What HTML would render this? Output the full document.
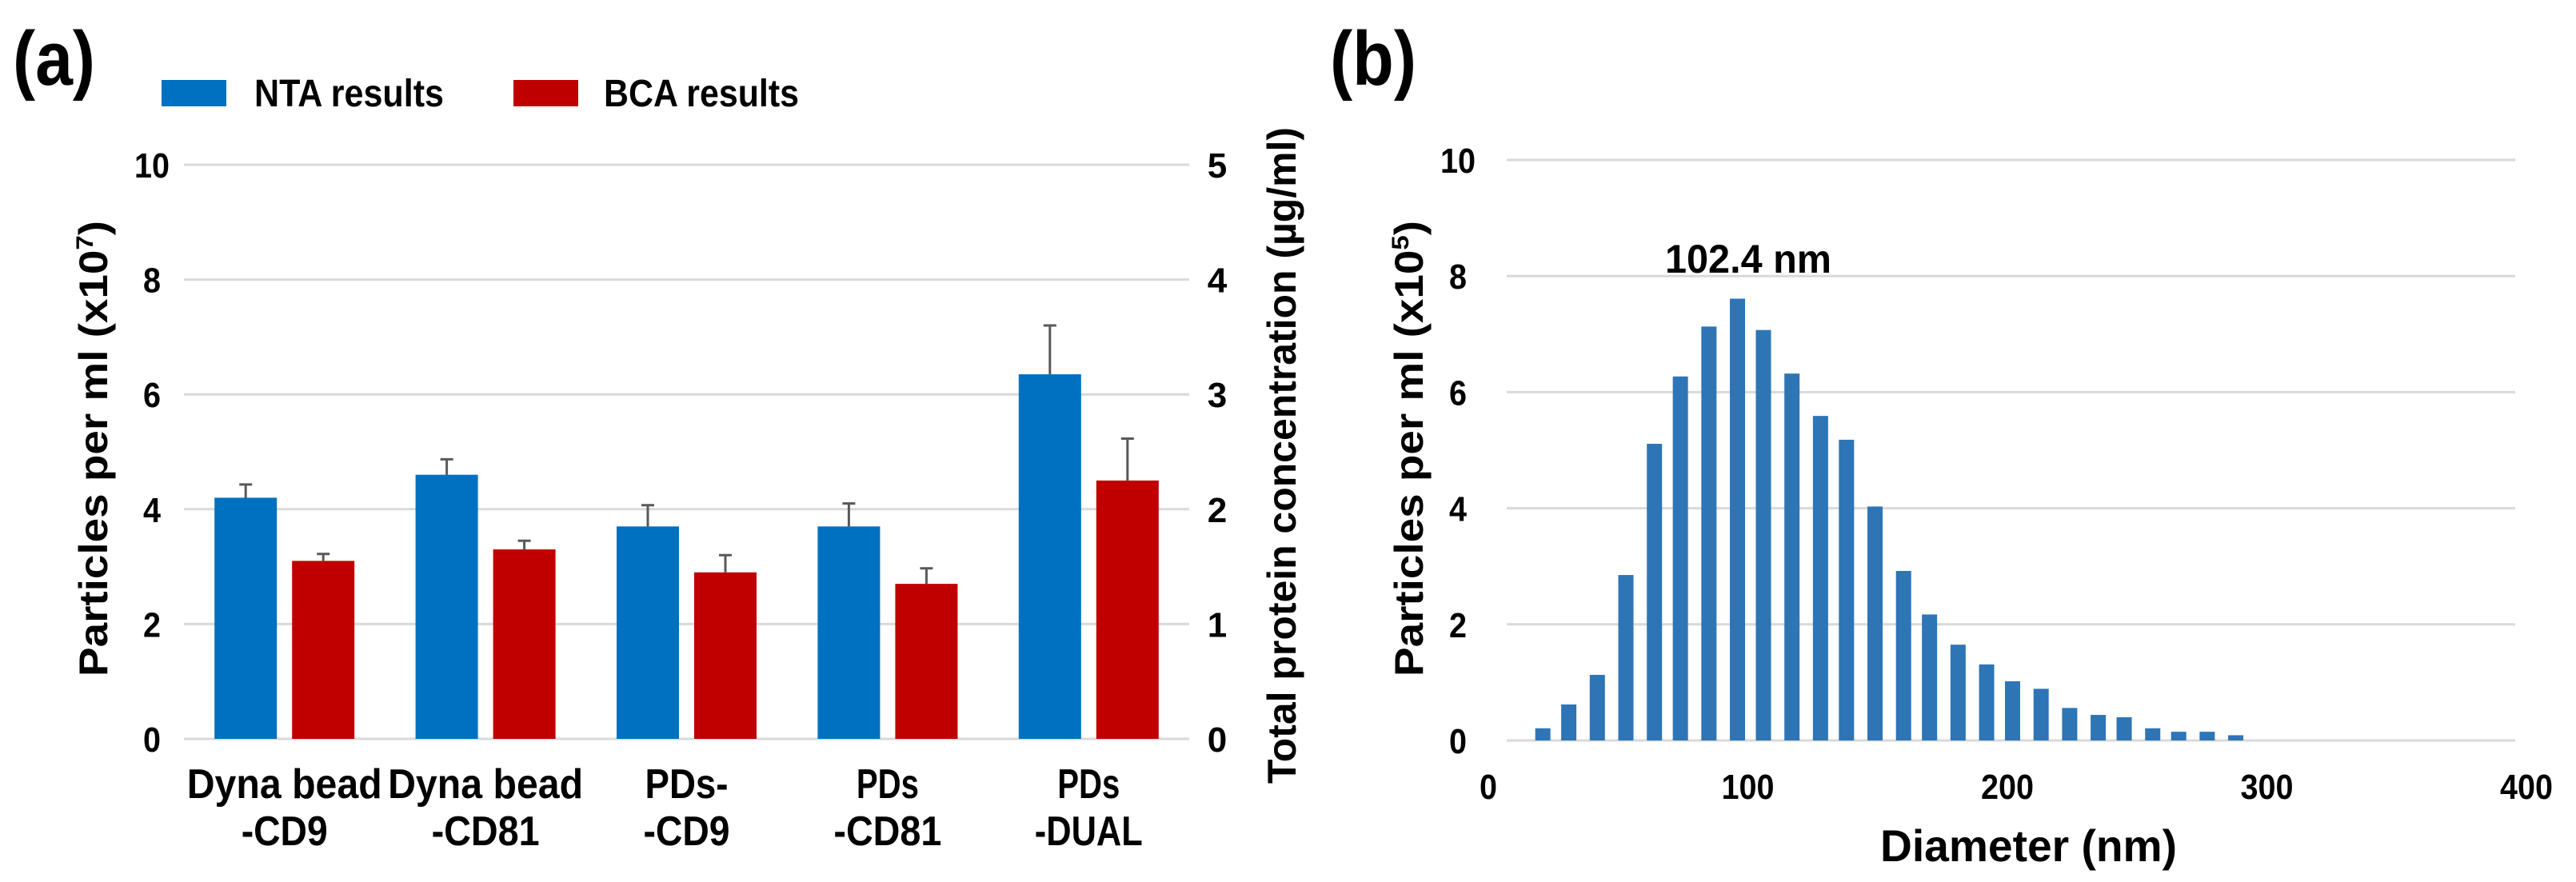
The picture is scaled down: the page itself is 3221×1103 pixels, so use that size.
<!DOCTYPE html>
<html><head><meta charset="utf-8"><style>
html,body{margin:0;padding:0;background:#fff;}
svg{display:block;font-family:"Liberation Sans",Arial,sans-serif;font-weight:bold;}
</style></head><body>
<svg id="fig" width="3221" height="1103" viewBox="0 0 3221 1103">
<text x="16" y="106" font-size="96" textLength="103" lengthAdjust="spacingAndGlyphs">(a)</text>
<text x="1663" y="106" font-size="96" textLength="108" lengthAdjust="spacingAndGlyphs">(b)</text>
<rect x="202" y="100" width="81" height="33" fill="#0070C0"/>
<text x="318" y="133" font-size="48" textLength="237" lengthAdjust="spacingAndGlyphs">NTA results</text>
<rect x="642" y="100" width="81" height="33" fill="#C00000"/>
<text x="755" y="133" font-size="48" textLength="244" lengthAdjust="spacingAndGlyphs">BCA results</text>
<g id="ga"></g>
<g id="gb"></g>
<text transform="translate(1620,980) rotate(-90)" font-size="50" textLength="821" lengthAdjust="spacingAndGlyphs">Total protein concentration (µg/ml)</text>
<text transform="translate(134,846) rotate(-90)" font-size="50" textLength="570" lengthAdjust="spacingAndGlyphs">Particles per ml (x10<tspan font-size="30" dy="-18">7</tspan><tspan dy="18">)</tspan></text>
<text transform="translate(1779,846) rotate(-90)" font-size="50" textLength="570" lengthAdjust="spacingAndGlyphs">Particles per ml (x10<tspan font-size="30" dy="-18">5</tspan><tspan dy="18">)</tspan></text>
<text x="2351" y="1077" font-size="56" textLength="371" lengthAdjust="spacingAndGlyphs">Diameter (nm)</text>
<text x="2082" y="341" font-size="50" textLength="208" lengthAdjust="spacingAndGlyphs">102.4 nm</text>
</svg>
<script>
const NS="http://www.w3.org/2000/svg";
// Chart A data
const catLine1=["Dyna bead","Dyna bead","PDs-","PDs","PDs"];
const catLine2=["-CD9","-CD81","-CD9","-CD81","-DUAL"];
const ntaVals=[4.2,4.6,3.7,3.7,6.35];
const ntaErr=[0.23,0.27,0.37,0.4,0.85];
const bcaVals=[1.55,1.65,1.45,1.35,2.25];
const bcaErr=[0.06,0.075,0.15,0.135,0.365];
const leftTicks=[0,2,4,6,8,10];
const rightTicks=[0,1,2,3,4,5];
// Chart B data
const diam=[21,31,42,53,64,74,85,96,106,117,128,138,149,160,170,181,192,202,213,224,235,245,256,266,277,288];
const counts=[0.21,0.62,1.13,2.85,5.11,6.27,7.13,7.61,7.07,6.32,5.59,5.18,4.03,2.92,2.17,1.65,1.31,1.02,0.89,0.56,0.44,0.40,0.21,0.15,0.15,0.09];
const bYTicks=[0,2,4,6,8,10];
const bXTicks=[0,100,200,300,400];

function mk(tag,attrs,parent,txt){const e=document.createElementNS(NS,tag);for(const k in attrs)e.setAttribute(k,attrs[k]);if(txt!==undefined)e.textContent=txt;parent.appendChild(e);return e;}
function narrow(e,s){e.setAttribute('textLength',String(s).length*22);e.setAttribute('lengthAdjust','spacingAndGlyphs');}

// Chart A
const ga=document.getElementById('ga');
const aX0=230,aX1=1487,aY0=924,aY1=206;
const yA=v=>aY0-(v/10)*(aY0-aY1);
const yR=v=>aY0-(v/5)*(aY0-aY1);
const catW=(aX1-aX0)/catLine1.length;
leftTicks.forEach(t=>{
  const l=mk('line',{x1:aX0,x2:aX1,y1:yA(t),y2:yA(t),stroke:'#d9d9d9','stroke-width':3},ga);
  
  
  const tx=mk('text',{x:190,y:yA(t)+16,'font-size':44,'text-anchor':'middle'},ga,String(t));
  narrow(tx,t);
  
  
});
rightTicks.forEach(t=>{
  const tx=mk('text',{x:1522,y:yR(t)+16,'font-size':44,'text-anchor':'middle'},ga,String(t));
  
  
});
const bw=78,gap=19;
catLine1.forEach((c,i)=>{
  const cx=aX0+catW*(i+0.5);
  const nx=cx-gap/2-bw, rx=cx+gap/2;
  const nb=mk('rect',{x:nx,y:yA(ntaVals[i]),width:bw,height:aY0-yA(ntaVals[i]),fill:'#0070C0'},ga);
  
  
  const rb=mk('rect',{x:rx,y:yR(bcaVals[i]),width:bw,height:aY0-yR(bcaVals[i]),fill:'#C00000'},ga);
  
  
  [[nx+bw/2,yA(ntaVals[i]),yA(ntaVals[i]+ntaErr[i])],[rx+bw/2,yR(bcaVals[i]),yR(bcaVals[i]+bcaErr[i])]].forEach(e=>{
    const g=mk('path',{d:`M${e[0]},${e[1]}V${e[2]}M${e[0]-8},${e[2]}H${e[0]+8}`,stroke:'#595959','stroke-width':3,fill:'none'},ga);
    
    
  });
  const t1=mk('text',{x:cx,y:998,'font-size':52,'text-anchor':'middle'},ga,c);
  t1.setAttribute('textLength',c.length>5?244:c.length*26);t1.setAttribute('lengthAdjust','spacingAndGlyphs');
  
  
  const t2=mk('text',{x:cx,y:1057,'font-size':52,'text-anchor':'middle'},ga,catLine2[i]);
  t2.setAttribute('textLength',catLine2[i].length*27);t2.setAttribute('lengthAdjust','spacingAndGlyphs');
  
  
});

// Chart B
const gb=document.getElementById('gb');
const bY0=926,bY1=200;
const xB=v=>1861+v*3.245;
const yB=v=>bY0-(v/10)*(bY0-bY1);
bYTicks.forEach(t=>{
  const l=mk('line',{x1:1884,x2:3145,y1:yB(t),y2:yB(t),stroke:'#d9d9d9','stroke-width':3},gb);
  
  
  const tx=mk('text',{x:1823,y:yB(t)+16,'font-size':44,'text-anchor':'middle'},gb,String(t));
  narrow(tx,t);
  
  
});
bXTicks.forEach(t=>{
  const tx=mk('text',{x:xB(t),y:999,'font-size':44,'text-anchor':'middle'},gb,String(t));
  narrow(tx,t);
  
  
});
diam.forEach((d,i)=>{
  const r=mk('rect',{x:xB(d)-9.5,y:yB(counts[i]),width:19,height:bY0-yB(counts[i]),fill:'#2E75B6'},gb);
  
  
});
</script>
</body></html>
